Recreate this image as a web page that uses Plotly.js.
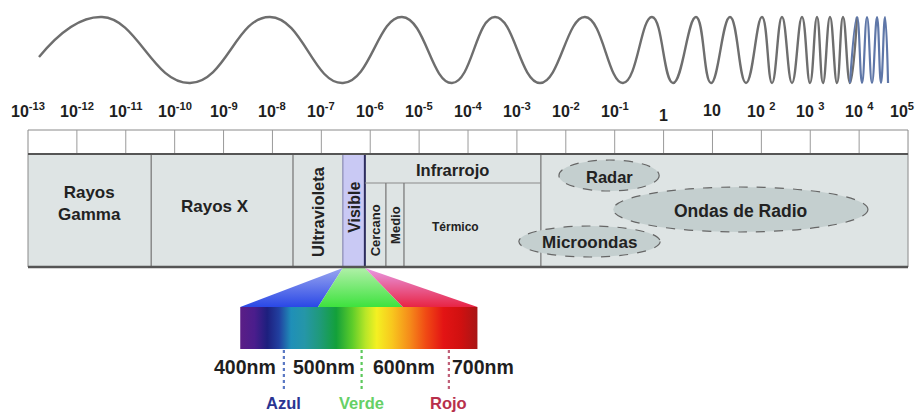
<!DOCTYPE html>
<html><head><meta charset="utf-8">
<script src="https://cdn.plot.ly/plotly-3.0.1.min.js"></script>
<style>html,body{margin:0;padding:0;background:#fff;}#chart{width:916px;height:412px;}</style>
</head><body><div id="chart"></div>
<script>
// ---------- data ----------
const exponents = [-13,-12,-11,-10,-9,-8,-7,-6,-5,-4,-3,-2,-1,0,1,2,3,4,5];
const tickLabels = ['10<sup>-13</sup>','10<sup>-12</sup>','10<sup>-11</sup>','10<sup>-10</sup>','10<sup>-9</sup>','10<sup>-8</sup>','10<sup>-7</sup>','10<sup>-6</sup>','10<sup>-5</sup>','10<sup>-4</sup>','10<sup>-3</sup>','10<sup>-2</sup>','10<sup>-1</sup>','1','10','10 <sup>2</sup>','10 <sup>3</sup>','10 <sup>4</sup>','10<sup>5</sup>'];

const bandNames = ['Rayos<br>Gamma','Rayos X','Ultravioleta','Visible','Infrarrojo','Radio'];
const bandEdges = [-13,-10.48,-7.58,-6.56,-6.11,-2.51,5];
const irNames = ['Cercano','Medio','Térmico'];
const irEdges = [-6.11,-5.68,-5.31,-2.51];

const ellipseNames = ['Radar','Ondas de Radio','Microondas'];
const ellipseFrom = [-2.14,-1.03,-2.96];
const ellipseTo = [-0.09,4.18,-0.07];

// wave: start point then alternating crest / trough positions (log10 wavelength)
const waveStart = -12.775;
const waveExtrema = [-11.486,-9.686,-8.050,-6.557,-5.350,-4.328,-3.448,-2.528,-1.607,-0.830,-0.237,0.193,0.663,0.970,1.359,1.686,2.013,2.218,2.422,2.627,2.831,2.995,3.138,3.261,3.404,3.547,3.670,3.813,3.957,4.059,4.161,4.263,4.366,4.447,4.529,4.591];

// visible spectrum (nm) and its colours
const spectrumNm = [394,412,428,443,458,475,495,515,535,552,566,585,608,628,650,672,693];
const spectrumColors = ['#5b1e86','#4a1d8c','#1d1f7e','#2140a0','#1f8fb8','#2596a8','#1f9a78','#13a03a','#5ccc2a','#b8e628','#f4f022','#f8c81e','#f58a1a','#f04a14','#e31414','#d01010','#a81616'];
const fanNames = ['Azul','Verde','Rojo'];
const fanFromNm = [394,492,599];
const fanToNm = [492,599,693];
const fanTopColors = ['#9aa6f0','#b0f0a8','#e89ae6'];
const fanBottomColors = ['#2a48e6','#3ee23e','#e82444'];
const markerNm = [449,547,657];
const markerColors = ['#5a78c4','#5cc85c','#c06078'];
const markerTextColors = ['#2a3492','#66d066','#b8304c'];
const nmTicks = [400,500,600,700];
const nmLabels = ['400nm','500nm','600nm','700nm'];

// ---------- layout constants ----------
const X1 = [-13.5727, 5.1630];
const X2 = [91.16, 1245.84];
const FONT = 'Liberation Sans, Arial, sans-serif';
const WAVE_TOP = 17, WAVE_BOT = 83, WAVE_MID = 57;
const TICK_Y = 110;
const ROW_TOP = 130, ROW_BOT = 154, BAND_BOT = 267, IR_SPLIT = 183;
const FAN_TOP = 268, BAR_TOP = 307, BAR_BOT = 349, DOT_BOT = 392;
const NM_Y = 367, NAME_Y = 403;
const ELLIPSE_ROWS = [[160,191],[187,232],[226,257]];
const ELLIPSE_FONT = [16.5,17.5,17];

const logToNm = v => X2[0] + (v - X1[0]) * (X2[1]-X2[0]) / (X1[1]-X1[0]);

// ---------- traces ----------
const traces = [];
const wx = [waveStart].concat(waveExtrema);
const wy = [WAVE_MID].concat(waveExtrema.map((_, i) => i % 2 === 0 ? WAVE_TOP : WAVE_BOT));
const split = 28;
traces.push({type:'scatter', mode:'lines', x: wx.slice(0, split+2), y: wy.slice(0, split+2),
  line:{color:'#6e6e6e', width:2.4, shape:'spline', smoothing:1.3}, hoverinfo:'skip', xaxis:'x', yaxis:'y'});
traces.push({type:'scatter', mode:'lines', x: wx.slice(split), y: wy.slice(split),
  line:{color:'#5f77a8', width:2.2, shape:'spline', smoothing:1.3}, hoverinfo:'skip', xaxis:'x', yaxis:'y'});

// spectrum bar
const nmMin = spectrumNm[0], nmMax = spectrumNm[spectrumNm.length-1];
traces.push({type:'scatter', mode:'lines', xaxis:'x2', yaxis:'y',
  x:[nmMin, nmMax, nmMax, nmMin, nmMin], y:[BAR_TOP, BAR_TOP, BAR_BOT, BAR_BOT, BAR_TOP],
  fill:'toself', line:{width:0, color:'rgba(0,0,0,0)'}, hoverinfo:'skip',
  fillgradient:{type:'horizontal', start:nmMin, stop:nmMax,
    colorscale: spectrumNm.map((n,i)=>[(n-nmMin)/(nmMax-nmMin), spectrumColors[i]])}});

// fan from visible band to bar
const visL = logToNm(bandEdges[3]), visR = logToNm(bandEdges[4]);
const fanPolys = [
  {x:[visL, fanFromNm[0], fanToNm[0], visL], y:[FAN_TOP, BAR_TOP, BAR_TOP, FAN_TOP]},
  {x:[visL, visR, fanToNm[1], fanFromNm[1], visL], y:[FAN_TOP, FAN_TOP, BAR_TOP, BAR_TOP, FAN_TOP]},
  {x:[visR, fanFromNm[2], fanToNm[2], visR], y:[FAN_TOP, BAR_TOP, BAR_TOP, FAN_TOP]}
];
fanPolys.forEach((p,i)=>{
  traces.push({type:'scatter', mode:'lines', xaxis:'x2', yaxis:'y', x:p.x, y:p.y, fill:'toself',
    line:{width:0, color:'rgba(0,0,0,0)'}, hoverinfo:'skip', name: fanNames[i],
    fillgradient:{type:'vertical', start:FAN_TOP, stop:BAR_TOP,
      colorscale:[[0, fanTopColors[i]],[1, fanBottomColors[i]]]}});
});

// ---------- shapes ----------
const shapes = [];
const first = exponents[0], last = exponents[exponents.length-1];
shapes.push({type:'rect', xref:'x', yref:'y', x0:first, x1:last, y0:ROW_TOP, y1:ROW_BOT, fillcolor:'#ffffff', line:{color:'#8a8a8a', width:1}});
exponents.slice(1,-1).forEach(e=>shapes.push({type:'line', xref:'x', yref:'y', x0:e, x1:e, y0:ROW_TOP, y1:ROW_BOT, line:{color:'#9a9a9a', width:1}}));
shapes.push({type:'rect', xref:'x', yref:'y', x0:first, x1:last, y0:ROW_BOT, y1:BAND_BOT, fillcolor:'#dee4e4', line:{color:'#8a8a8a', width:1}});
shapes.push({type:'rect', xref:'x', yref:'y', x0:bandEdges[3], x1:bandEdges[4], y0:ROW_BOT, y1:BAND_BOT, fillcolor:'#c9c9f4', line:{width:0}});
shapes.push({type:'line', xref:'x', yref:'y', x0:bandEdges[3], x1:bandEdges[3], y0:ROW_BOT, y1:BAND_BOT, line:{color:'#7a7aaa', width:1}});
bandEdges.slice(1,-1).forEach((e,i)=>{
  if (i === 2) return;
  shapes.push({type:'line', xref:'x', yref:'y', x0:e, x1:e, y0:ROW_BOT, y1:BAND_BOT,
    line:{color: i === 3 ? '#2c2c5e' : '#7c7c7c', width: i === 3 ? 2 : 1.3}});
});
shapes.push({type:'line', xref:'x', yref:'y', x0:irEdges[0], x1:irEdges[3], y0:IR_SPLIT, y1:IR_SPLIT, line:{color:'#8a8a8a', width:1.2}});
irEdges.slice(1,-1).forEach(e=>shapes.push({type:'line', xref:'x', yref:'y', x0:e, x1:e, y0:IR_SPLIT, y1:BAND_BOT, line:{color:'#7c7c7c', width:1.3}}));
shapes.push({type:'line', xref:'x', yref:'y', x0:first, x1:last, y0:ROW_BOT, y1:ROW_BOT, line:{color:'#555', width:2}});
shapes.push({type:'line', xref:'x', yref:'y', x0:first, x1:last, y0:BAND_BOT, y1:BAND_BOT, line:{color:'#555', width:2.5}});
ellipseNames.forEach((n,i)=>shapes.push({type:'circle', xref:'x', yref:'y', x0:ellipseFrom[i], x1:ellipseTo[i],
  y0:ELLIPSE_ROWS[i][0], y1:ELLIPSE_ROWS[i][1], fillcolor:'#c4cfcf', line:{color:'#666', width:1.2, dash:'dash'}}));
markerNm.forEach((m,i)=>shapes.push({type:'line', xref:'x2', yref:'y', x0:m, x1:m, y0:BAR_BOT+1, y1:DOT_BOT,
  line:{color:markerColors[i], width:2.2, dash:'dot'}}));

// ---------- annotations ----------
const ann = [];
const A = (o) => Object.assign({showarrow:false, xanchor:'center', yanchor:'middle'}, o);
exponents.forEach((e,i)=>ann.push(A({xref:'x', yref:'y', x:e, y: e === 0 ? TICK_Y+5 : TICK_Y, text:tickLabels[i],
  xshift: i === exponents.length-1 ? -6 : 0,
  font:{family:FONT, size:16, color:'#1e1e1e', weight:'bold'}})));
const mid = (a,b)=>(a+b)/2;
ann.push(A({xref:'x', yref:'y', x:mid(bandEdges[0],bandEdges[1]), y:203, text:bandNames[0], font:{family:FONT,size:17,color:'#222',weight:'bold'}}));
ann.push(A({xref:'x', yref:'y', x:mid(bandEdges[1],bandEdges[2])-0.15, y:206, text:bandNames[1], font:{family:FONT,size:17,color:'#222',weight:'bold'}}));
ann.push(A({xref:'x', yref:'y', x:mid(bandEdges[2],bandEdges[3]), y:211, text:bandNames[2], textangle:-90, font:{family:FONT,size:16.5,color:'#222',weight:'bold'}}));
ann.push(A({xref:'x', yref:'y', x:mid(bandEdges[3],bandEdges[4]), y:207, text:bandNames[3], textangle:-90, font:{family:FONT,size:16,color:'#222',weight:'bold'}}));
ann.push(A({xref:'x', yref:'y', x:mid(bandEdges[4],bandEdges[5]), y:170, text:bandNames[4], font:{family:FONT,size:16.5,color:'#222',weight:'bold'}}));
ann.push(A({xref:'x', yref:'y', x:mid(irEdges[0],irEdges[1]), y:230, text:irNames[0], textangle:-90, font:{family:FONT,size:13,color:'#222',weight:'bold'}}));
ann.push(A({xref:'x', yref:'y', x:mid(irEdges[1],irEdges[2]), y:225, text:irNames[1], textangle:-90, font:{family:FONT,size:13,color:'#222',weight:'bold'}}));
ann.push(A({xref:'x', yref:'y', x:mid(irEdges[2],irEdges[3])-0.35, y:227, text:irNames[2], font:{family:FONT,size:12,color:'#222',weight:'bold'}}));
ellipseNames.forEach((n,i)=>ann.push(A({xref:'x', yref:'y', x:mid(ellipseFrom[i],ellipseTo[i]), y:mid(ELLIPSE_ROWS[i][0],ELLIPSE_ROWS[i][1])+1,
  text:n, font:{family:FONT,size:ELLIPSE_FONT[i],color:'#222',weight:'bold'}})));
nmTicks.forEach((t,i)=>ann.push(A({xref:'x2', yref:'y', x:t, y:NM_Y, text:nmLabels[i], font:{family:FONT,size:19.5,color:'#1e1e1e',weight:'bold'}})));
markerNm.forEach((m,i)=>ann.push(A({xref:'x2', yref:'y', x:m, y:NAME_Y, text:fanNames[i], font:{family:FONT,size:16.5,color:markerTextColors[i],weight:'bold'}})));

const layout = {
  width:916, height:412, margin:{l:0,r:0,t:0,b:0}, paper_bgcolor:'#ffffff', plot_bgcolor:'#ffffff', showlegend:false,
  xaxis:{range:X1, visible:false, fixedrange:true},
  xaxis2:{range:X2, visible:false, overlaying:'x', anchor:'y', fixedrange:true},
  yaxis:{range:[412,0], visible:false, fixedrange:true},
  shapes: shapes, annotations: ann
};
Plotly.newPlot('chart', traces, layout, {staticPlot:true, displayModeBar:false});
</script></body></html>
